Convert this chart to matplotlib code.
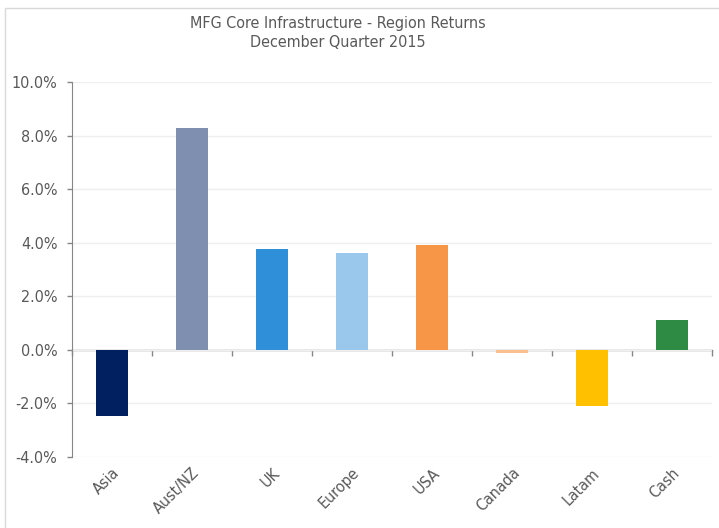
import matplotlib
matplotlib.use("Agg")
import matplotlib.pyplot as plt
from matplotlib.patches import Rectangle
from matplotlib.ticker import FuncFormatter, FixedLocator

categories = ["Asia", "Aust/NZ", "UK", "Europe", "USA", "Canada", "Latam", "Cash"]
returns = [-2.47, 8.28, 3.75, 3.6, 3.9, -0.1, -2.1, 1.12]
colors = ["#002060", "#7F8FAF", "#2F90D9", "#99C8EC", "#F79646", "#FAC090", "#FFC000", "#2E8B44"]
yticks = [-4, -2, 0, 2, 4, 6, 8, 10]
title = "MFG Core Infrastructure - Region Returns\nDecember Quarter 2015"

txt = "#595959"
plt.rcParams['font.family'] = ['DejaVu Sans']
plt.rcParams['font.stretch'] = 'condensed'

fig = plt.figure(figsize=(7.19, 5.28), dpi=100)
ax = fig.add_axes([72/719, 1-457/528, (712-72)/719, (457-82)/528])

fig.patches.append(Rectangle((5/719, -0.01), 1.0, 1-8/528+0.01, transform=fig.transFigure,
                             fill=False, edgecolor="#D9D9D9", linewidth=1.0))

x = list(range(len(categories)))
ax.bar(x, returns, width=0.4, color=colors, zorder=3)

ax.set_xlim(-0.5, len(categories) - 0.5)
ax.set_ylim(-4, 10)
ax.set_yticks(yticks)
ax.yaxis.set_major_formatter(FuncFormatter(lambda v, p: f"{v:.1f}%"))
ax.grid(axis='y', color="#EFEFEF", linewidth=1.0, zorder=0)
ax.tick_params(axis='y', colors="#868686", labelcolor=txt, labelsize=11.5, length=3.5, width=1, direction='out', pad=7)

for s in ['top', 'right', 'bottom']:
    ax.spines[s].set_visible(False)
ax.spines['left'].set_color("#868686")

ax.set_xticks(x)
ax.set_xticklabels(categories, rotation=45, ha='right', rotation_mode='anchor', color=txt, fontsize=11.5)
ax.tick_params(axis='x', length=0, pad=6)

sec = ax.secondary_xaxis(0, transform=ax.transData)
sec.spines['bottom'].set_color("#868686")
sec.spines['bottom'].set_linewidth(1.0)
sec.xaxis.set_major_locator(FixedLocator([i + 0.5 for i in range(len(categories) - 1)] + [-0.5, len(categories) - 0.5]))
sec.tick_params(axis='x', length=4, width=1, colors="#868686", labelbottom=False, direction='out')

fig.text(338/719, 1-33/528, title, ha='center', va='center', color=txt, fontsize=11.5, linespacing=1.35)

fig.savefig("out.png", dpi=100)
